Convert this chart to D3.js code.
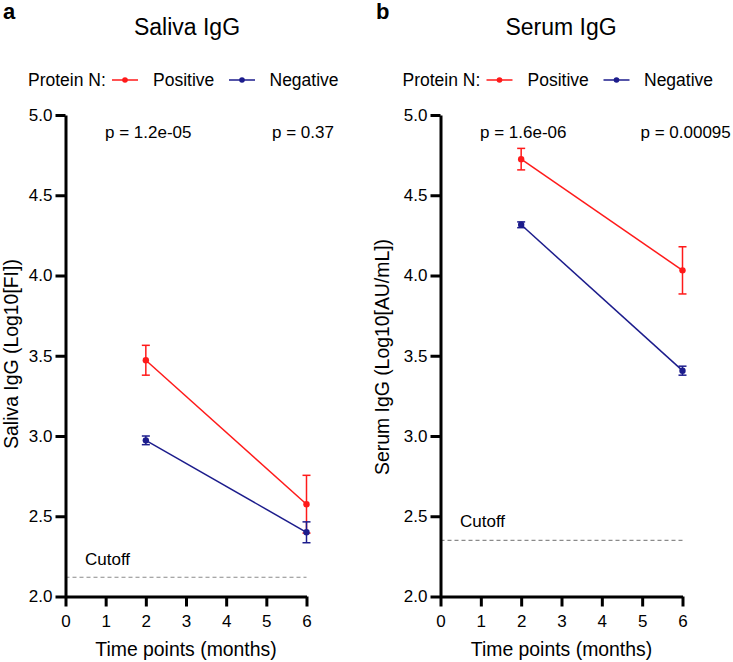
<!DOCTYPE html>
<html>
<head>
<meta charset="utf-8">
<script src="https://cdn.jsdelivr.net/npm/d3@7"></script>
<style>
  html, body { margin: 0; padding: 0; background: #fff; }
  svg { display: block; font-family: "Liberation Sans", Arial, Helvetica, sans-serif; }
</style>
</head>
<body>
<svg id="chart" width="733" height="662"></svg>
<script>
// ---- data ----
const months = [2, 6];
const xTicks = [0, 1, 2, 3, 4, 5, 6];
const yTicks = [2.0, 2.5, 3.0, 3.5, 4.0, 4.5, 5.0];

const salivaPositive = [3.472, 2.575];
const salivaPositiveErr = [0.093, 0.18];
const salivaNegative = [2.973, 2.400];
const salivaNegativeErr = [0.027, 0.065];
const salivaCutoff = 2.12;
const salivaP = ["p = 1.2e-05", "p = 0.37"];

const serumPositive = [4.725, 4.032];
const serumPositiveErr = [0.067, 0.147];
const serumNegative = [4.316, 3.407];
const serumNegativeErr = [0.018, 0.028];
const serumCutoff = 2.35;
const serumP = ["p = 1.6e-06", "p = 0.00095"];

const seriesNames = ["Positive", "Negative"];
const colors = { Positive: "#ff1a1a", Negative: "#1c1c8c" };

const panels = [
  { letter: "a", title: "Saliva IgG", ytitle: "Saliva IgG (Log10[FI])",
    pos: salivaPositive, posErr: salivaPositiveErr, neg: salivaNegative, negErr: salivaNegativeErr,
    cutoff: salivaCutoff, p: salivaP,
    x0: 65.5, x1: 306.5, titleX: 187, ytitleX: 17.5, ytitleY: 354, legendX: 28, cutoffLabelDy: -12,
    pX: [105, 272] },
  { letter: "b", title: "Serum IgG", ytitle: "Serum IgG (Log10[AU/mL])",
    pos: serumPositive, posErr: serumPositiveErr, neg: serumNegative, negErr: serumNegativeErr,
    cutoff: serumCutoff, p: serumP,
    x0: 440.5, x1: 682.5, titleX: 561, ytitleX: 389, ytitleY: 357, legendX: 402.5, cutoffLabelDy: -13,
    pX: [480, 640.5] }
];

const svg = d3.select("#chart");
const yTop = 115, yBot = 596.5;

panels.forEach((P, pi) => {
  const g = svg.append("g");
  const x = d3.scaleLinear().domain([0, 6]).range([P.x0, P.x1]);
  const y = d3.scaleLinear().domain([2, 5]).range([yBot, yTop]);

  // panel letter
  g.append("text").attr("x", pi === 0 ? 3 : 376).attr("y", 19)
    .attr("font-size", 22).attr("font-weight", "bold").text(P.letter);

  // title
  g.append("text").attr("x", P.titleX).attr("y", 35).attr("text-anchor", "middle")
    .attr("font-size", 23).text(P.title);

  // legend
  const lg = g.append("g").attr("transform", `translate(${P.legendX},86)`);
  lg.append("text").attr("x", 0).attr("y", 0).attr("font-size", 17.5).text("Protein N:");
  const legendItems = [
    { name: seriesNames[0], lx: 84, tx: 125 },
    { name: seriesNames[1], lx: 201, tx: 241.5 }
  ];
  legendItems.forEach(it => {
    lg.append("line").attr("x1", it.lx).attr("x2", it.lx + 26).attr("y1", -6).attr("y2", -6)
      .attr("stroke", colors[it.name]).attr("stroke-width", 1.5);
    lg.append("circle").attr("cx", it.lx + 13).attr("cy", -6).attr("r", 2.8).attr("fill", colors[it.name]);
    lg.append("text").attr("x", it.tx).attr("y", 0).attr("font-size", 17.5).text(it.name);
  });

  // p values
  P.p.forEach((t, i) => {
    g.append("text").attr("x", P.pX[i]).attr("y", 138).attr("font-size", 17).text(t);
  });

  // cutoff
  g.append("line").attr("x1", x(0)).attr("x2", x(6)).attr("y1", y(P.cutoff)).attr("y2", y(P.cutoff))
    .attr("stroke", "#8a8a8a").attr("stroke-width", 1.2).attr("stroke-dasharray", "4,3");
  g.append("text").attr("x", x(0) + 19.5).attr("y", y(P.cutoff) + P.cutoffLabelDy)
    .attr("font-size", 17).text("Cutoff");

  // series
  const series = [
    { name: "Positive", vals: P.pos, errs: P.posErr },
    { name: "Negative", vals: P.neg, errs: P.negErr }
  ];
  const line = d3.line().x(d => x(d.m)).y(d => y(d.v));
  series.forEach(s => {
    const pts = months.map((m, i) => ({ m, v: s.vals[i], e: s.errs[i] }));
    const c = colors[s.name];
    g.append("path").datum(pts).attr("d", line).attr("fill", "none")
      .attr("stroke", c).attr("stroke-width", 1.5);
    const eb = g.append("g").selectAll("g").data(pts).join("g");
    eb.append("line").attr("x1", d => x(d.m)).attr("x2", d => x(d.m))
      .attr("y1", d => y(d.v + d.e)).attr("y2", d => y(d.v - d.e))
      .attr("stroke", c).attr("stroke-width", 1.5);
    [1, -1].forEach(sg => {
      eb.append("line").attr("x1", d => x(d.m) - 4).attr("x2", d => x(d.m) + 4)
        .attr("y1", d => y(d.v + sg * d.e)).attr("y2", d => y(d.v + sg * d.e))
        .attr("stroke", c).attr("stroke-width", 1.5);
    });
    eb.append("circle").attr("cx", d => x(d.m)).attr("cy", d => y(d.v)).attr("r", 3.2).attr("fill", c);
  });

  // axes
  const yAxis = d3.axisLeft(y).tickValues(yTicks).tickFormat(d3.format(".1f"))
    .tickSize(10).tickSizeOuter(0).tickPadding(3);
  const ya = g.append("g").attr("transform", `translate(${P.x0},0)`).call(yAxis);
  const xAxis = d3.axisBottom(x).tickValues(xTicks).tickFormat(d3.format("d"))
    .tickSize(10).tickSizeOuter(0).tickPadding(8);
  const xa = g.append("g").attr("transform", `translate(0,${yBot})`).call(xAxis);
  [ya, xa].forEach(a => {
    a.select("path.domain").attr("stroke", "#000").attr("stroke-width", 3).style("stroke-width", "3px");
    a.selectAll(".tick line").attr("stroke", "#000").attr("stroke-width", 3).style("stroke-width", "3px");
    a.selectAll(".tick text").style("font-size", "17px").style("fill", "#000")
      .style("font-family", "'Liberation Sans', Arial, Helvetica, sans-serif");
  });

  // axis titles
  g.append("text").attr("x", (P.x0 + P.x1) / 2).attr("y", 656).attr("text-anchor", "middle")
    .attr("font-size", 19.4).text("Time points (months)");
  g.append("text").attr("transform", `translate(${P.ytitleX},${P.ytitleY}) rotate(-90)`)
    .attr("text-anchor", "middle").attr("font-size", 19.4).text(P.ytitle);
});
</script>
</body>
</html>
